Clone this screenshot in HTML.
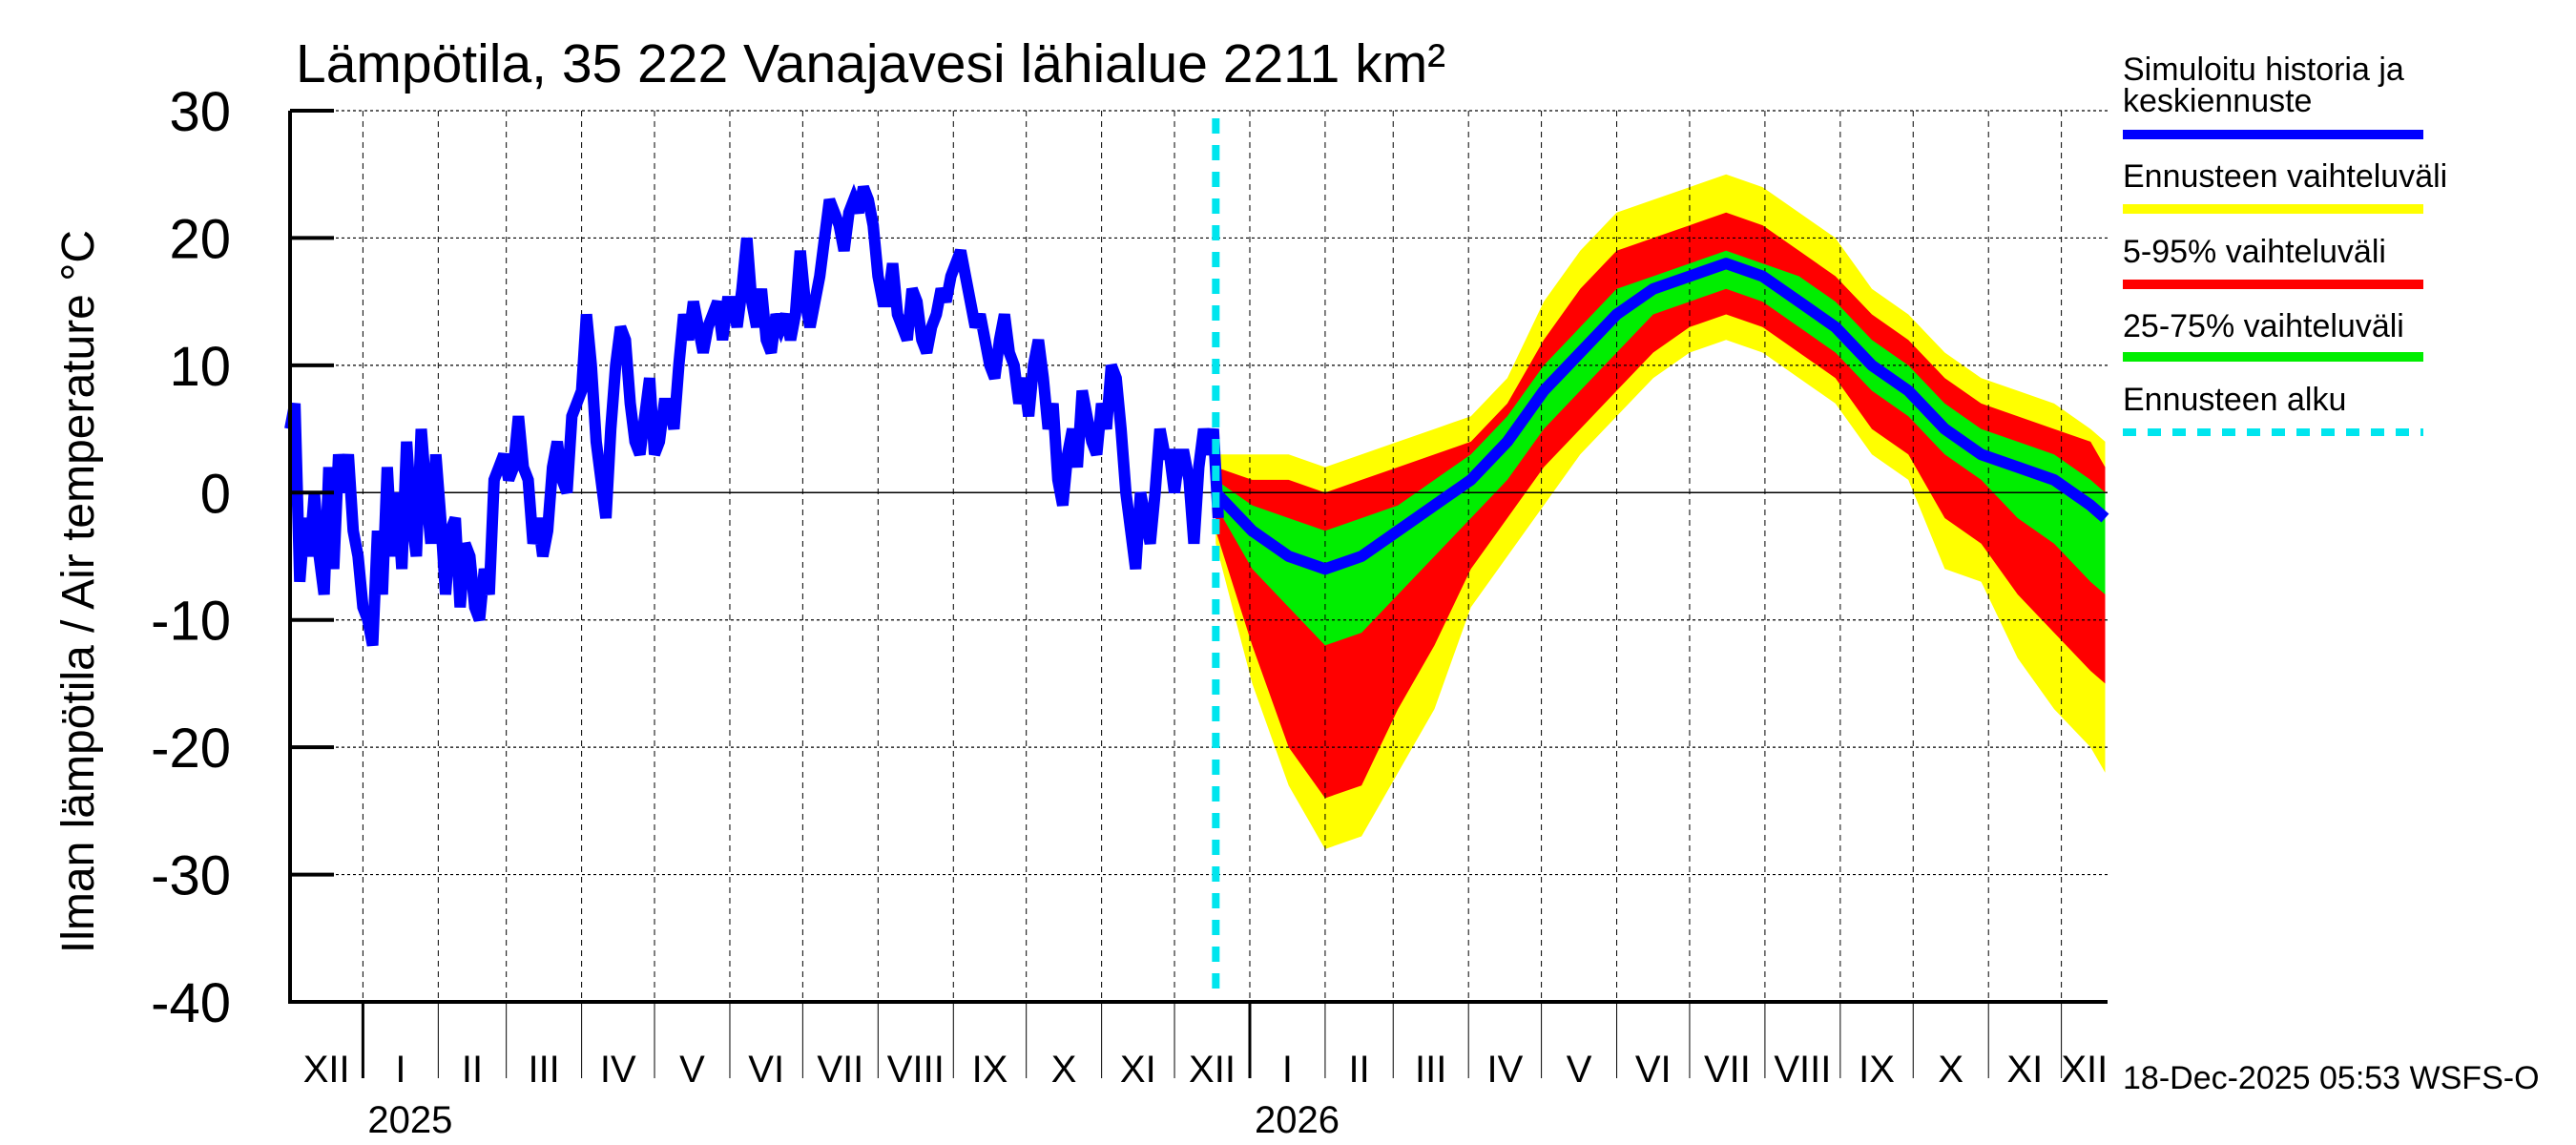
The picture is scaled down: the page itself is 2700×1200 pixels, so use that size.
<!DOCTYPE html>
<html><head><meta charset="utf-8">
<style>
html,body{margin:0;padding:0;background:#fff;}
svg{display:block;font-family:"Liberation Sans",sans-serif;}
</style></head>
<body>
<svg id="chart" width="2700" height="1200" viewBox="0 0 2700 1200">
<rect width="2700" height="1200" fill="#fff"/>
<g id="bands"></g>
<g id="grid"></g>
<g id="lines"></g>
<g id="axes"></g>
<text x="310" y="86" font-size="57">Lämpötila, 35 222 Vanajavesi lähialue 2211 km²</text>
<text transform="translate(98,620) rotate(-90)" text-anchor="middle" font-size="48">Ilman lämpötila / Air temperature   °C</text>
<g>
<text x="2225" y="84" font-size="34">Simuloitu historia ja</text>
<text x="2225" y="117" font-size="34">keskiennuste</text>
<line x1="2225" y1="141" x2="2540" y2="141" stroke="#0000ff" stroke-width="10"/>
<text x="2225" y="196" font-size="34">Ennusteen vaihteluväli</text>
<line x1="2225" y1="219" x2="2540" y2="219" stroke="#ffff00" stroke-width="10"/>
<text x="2225" y="275" font-size="34">5-95% vaihteluväli</text>
<line x1="2225" y1="298" x2="2540" y2="298" stroke="#ff0000" stroke-width="10"/>
<text x="2225" y="353" font-size="34">25-75% vaihteluväli</text>
<line x1="2225" y1="374" x2="2540" y2="374" stroke="#00ee00" stroke-width="10"/>
<text x="2225" y="430" font-size="34">Ennusteen alku</text>
<line x1="2225" y1="453" x2="2540" y2="453" stroke="#00e5ee" stroke-width="8" stroke-dasharray="14,12"/>
</g>
<text x="2225" y="1141" font-size="34">18-Dec-2025 05:53 WSFS-O</text>
</svg>
<script>
// history: one value every 2 days starting 2 Dec 2024 (day 0)
const histStep = 2;
const histValues = [5,7,-7,-2,-5,0,-5,-8,2,-6,3,0,3,-3,-5,-9,-10,-12,-3,-8,2,-5,0,-6,4,-2,-5,5,0,-4,3,-2,-8,-3,-2,-9,-4,-5,-9,-10,-6,-8,1,2,3,1,2,6,2,1,-4,-2,-5,-3,2,4,1,0,6,7,8,14,10,4,1,-2,5,10,13,12,7,4,3,6,9,3,4,7,7,5,10,14,12,15,13,11,13,14,15,12,15,15,13,16,20,15,13,16,12,11,14,13,14,12,14,19,15,13,15,17,20,23,22,21,19,22,23,22,24,23,21,17,15,15,18,14,13,12,16,15,12,11,13,14,16,15,17,18,19,17,15,13,14,12,10,9,12,14,11,10,7,9,6,10,12,9,5,7,1,-1,3,5,2,8,6,4,3,7,5,10,9,5,0,-3,-6,0,-2,-4,0,5,3,3,0,3,3,1,-4,2,5,3,5,-2];
// forecast: days since 2 Dec 2024
const fcDays = [381,396,411,426,441,456,471,486,501,516,531,546,561,576,591,606,621,636,651,666,681,696,711,726,741,747];
const fcMedian = [0,-3,-5,-6,-5,-3,-1,1,4,8,11,14,16,17,18,17,15,13,10,8,5,3,2,1,-1,-2];
const fcP25 = [-1,-6,-9,-12,-11,-8,-5,-2,1,5,8,11,14,15,16,15,13,11,8,6,3,1,-2,-4,-7,-8];
const fcP75 = [1,-1,-2,-3,-2,-1,1,3,6,10,13,16,17,18,19,18,17,15,12,10,7,5,4,3,1,0];
const fcP5 = [-3,-12,-20,-24,-23,-17,-12,-6,-2,2,5,8,11,13,14,13,11,9,5,3,-2,-4,-8,-11,-14,-15];
const fcP95 = [2,1,1,0,1,2,3,4,7,12,16,19,20,21,22,21,19,17,14,12,9,7,6,5,4,2];
const fcMin = [-4,-15,-23,-28,-27,-22,-17,-9,-5,-1,3,6,9,11,12,11,9,7,3,1,-6,-7,-13,-17,-20,-22];
const fcMax = [3,3,3,2,3,4,5,6,9,15,19,22,23,24,25,24,22,20,16,14,11,9,8,7,5,4];
const yTicks = [30,20,10,0,-10,-20,-30,-40];
const monthLabels = ["XII","I","II","III","IV","V","VI","VII","VIII","IX","X","XI","XII","I","II","III","IV","V","VI","VII","VIII","IX","X","XI","XII"];
const monthStartDays = [-1,30,61,89,120,150,181,211,242,273,303,334,364,395,426,454,485,515,546,576,607,638,668,699,729,760];
const yearLabels = ["2025","2026"];
const yearDays = [30,395];
const forecastStartDay = 381;

const X0=304, X1=2209, Y0=116, Y1=1050, DAY0=0, DAYN=748, TMAX=30, TMIN=-40;
const xs = d => X0 + (d-DAY0)/(DAYN-DAY0)*(X1-X0);
const ys = t => Y0 + (TMAX-t)/(TMAX-TMIN)*(Y1-Y0);
const NS="http://www.w3.org/2000/svg";
function mk(tag, attrs, parent){const e=document.createElementNS(NS,tag);for(const k in attrs)e.setAttribute(k,attrs[k]);parent.appendChild(e);return e;}
const bands=document.getElementById('bands'), grid=document.getElementById('grid'), lines=document.getElementById('lines'), axes=document.getElementById('axes');

function band(lo,hi,color,name){
  let p=fcDays.map((d,i)=>xs(d).toFixed(1)+','+ys(hi[i]).toFixed(1));
  for(let i=fcDays.length-1;i>=0;i--)p.push(xs(fcDays[i]).toFixed(1)+','+ys(lo[i]).toFixed(1));
  const e=mk('polygon',{points:p.join(' '),fill:color},bands);
  
  
}
band(fcMin,fcMax,'#ffff00','band-full-range');
band(fcP5,fcP95,'#ff0000','band-5-95');
band(fcP25,fcP75,'#00ee00','band-25-75');

yTicks.forEach(t=>{
  if(t===TMIN) return;
  const e=mk('line',{x1:X0,x2:X1,y1:ys(t),y2:ys(t),stroke:'#000','stroke-width':t===0?1.5:1.2,'stroke-dasharray':t===0?'none':'3,3'},grid);
  
  
});
monthStartDays.forEach(d=>{
  if(d<=DAY0||d>=DAYN) return;
  const e=mk('line',{x1:xs(d),x2:xs(d),y1:Y0,y2:Y1,stroke:'#000','stroke-width':1,'stroke-dasharray':'6,5'},grid);
  
  
});

const fcLine=mk('polyline',{points:fcDays.map((d,i)=>xs(d).toFixed(1)+','+ys(fcMedian[i]).toFixed(1)).join(' '),fill:'none',stroke:'#0000ff','stroke-width':12,'stroke-linejoin':'round'},lines);


const hLine=mk('polyline',{points:histValues.map((v,i)=>xs(DAY0+i*histStep).toFixed(1)+','+ys(v).toFixed(1)).join(' '),fill:'none',stroke:'#0000ff','stroke-width':12,'stroke-linejoin':'miter','stroke-miterlimit':3},lines);


const fs=mk('line',{x1:xs(forecastStartDay),x2:xs(forecastStartDay),y1:Y0+8,y2:Y1,stroke:'#00e5ee','stroke-width':8,'stroke-dasharray':'16,12'},lines);



const frame=mk('path',{d:`M${X0},${Y0} V${Y1} H${X1}`,fill:'none',stroke:'#000','stroke-width':4},axes);


yTicks.forEach(t=>{
  const tk=mk('line',{x1:X0,x2:X0+46,y1:ys(t),y2:ys(t),stroke:'#000','stroke-width':4},axes);
  
  
  const lb=mk('text',{x:242,y:ys(t)+21,'text-anchor':'end','font-size':58},axes);
  lb.textContent=t;
  
  
});
monthStartDays.forEach((d,i)=>{
  const isYear=yearDays.includes(d);
  if(d>DAY0&&d<DAYN){
    const tk=mk('line',{x1:xs(d),x2:xs(d),y1:Y1,y2:1130,stroke:'#000','stroke-width':isYear?3:1},axes);
    
    
  }
  if(i<monthLabels.length){
    const a=Math.max(d,DAY0), b=Math.min(monthStartDays[i+1],DAYN);
    const lb=mk('text',{x:(xs(a)+xs(b))/2,y:1134,'text-anchor':'middle','font-size':40},axes);
    lb.textContent=monthLabels[i];
    
    
  }
});
yearLabels.forEach((y,i)=>{
  const lb=mk('text',{x:xs(yearDays[i])+5,y:1187,'font-size':40},axes);
  lb.textContent=y;
  
  
});
</script>
</body></html>
